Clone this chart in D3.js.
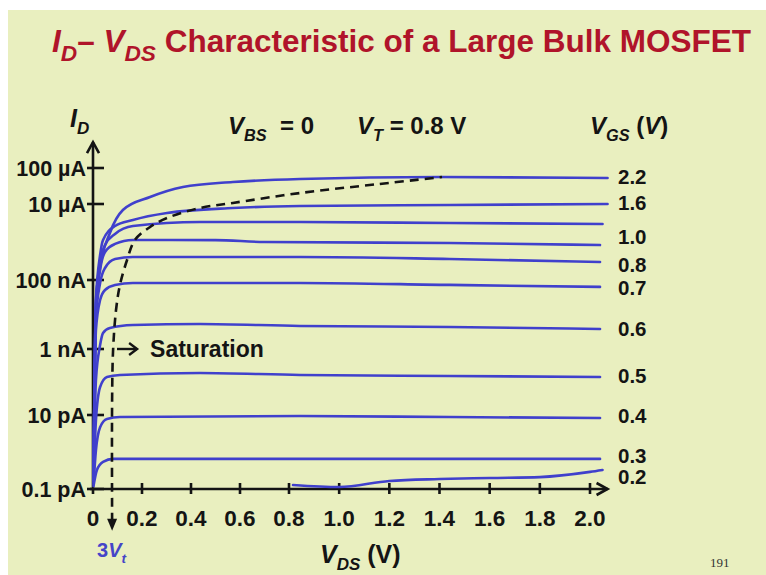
<!DOCTYPE html>
<html><head><meta charset="utf-8">
<script src="https://cdn.jsdelivr.net/npm/d3@7"></script>
<style>body{margin:0;background:#fff}svg{display:block}</style>
</head><body>
<svg id="c" width="766" height="575"></svg>
<script>
// ---------- data ----------
const xTicks = [0,0.2,0.4,0.6,0.8,1.0,1.2,1.4,1.6,1.8,2.0];
const xTickLabels = ["0","0.2","0.4","0.6","0.8","1.0","1.2","1.4","1.6","1.8","2.0"];
const yTicks = [1e-4,1e-5,1e-7,1e-9,1e-11,1e-13];
const yTickLabels = ["100 \u00B5A","10 \u00B5A","100 nA","1 nA","10 pA","0.1 pA"];

// [V_DS (V), I_D (A)]
const c22 = [[0.002,1.75e-13],[0.012,2.6e-8],[0.029,2.2e-7],[0.069,1.73e-6],[0.122,6.95e-6],[0.233,1.56e-5],[0.367,2.96e-5],[0.571,4.08e-5],[0.844,4.95e-5],[1.4,5.6e-5],[2.07,5.3e-5]];
const c16 = [[0.002,1.75e-13],[0.012,2.63e-8],[0.029,4.55e-7],[0.041,1.13e-6],[0.09,2.64e-6],[0.163,3.8e-6],[0.302,5.8e-6],[0.571,7.85e-6],[0.844,8.85e-6],[1.44,9.4e-6],[2.07,1.0e-5]];
const c13 = [[0.002,1.75e-13],[0.012,1.88e-8],[0.029,2.98e-7],[0.049,8.3e-7],[0.09,1.63e-6],[0.163,2.64e-6],[0.437,3.36e-6],[0.844,3.36e-6],[1.44,3.16e-6],[2.05,2.98e-6]];
const c10 = [[0.002,1.75e-13],[0.012,1.35e-8],[0.029,1.83e-7],[0.049,5.46e-7],[0.09,8.9e-7],[0.163,1.13e-6],[0.5,1.12e-6],[0.7,1.0e-6],[1.44,9.4e-7],[2.04,8.3e-7]];
const c08 = [[0.002,1.75e-13],[0.012,7.9e-9],[0.029,8.2e-8],[0.049,2.07e-7],[0.09,3.57e-7],[0.163,4.03e-7],[0.844,4.03e-7],[1.44,3.57e-7],[2.04,2.98e-7]];
const c07 = [[0.002,1.75e-13],[0.012,3.56e-9],[0.029,2.63e-8],[0.049,5.13e-8],[0.09,7.2e-8],[0.163,8.2e-8],[0.844,8.2e-8],[1.44,7.2e-8],[2.04,6.3e-8]];
const c06 = [[0.002,1.75e-13],[0.012,1.15e-10],[0.029,1.3e-9],[0.041,2.9e-9],[0.069,4.06e-9],[0.163,4.97e-9],[0.437,5.3e-9],[0.844,4.65e-9],[1.44,4.35e-9],[2.04,3.8e-9]];
const c05 = [[0.002,1.55e-13],[0.012,7.3e-12],[0.029,7.05e-11],[0.057,1.42e-10],[0.11,1.63e-10],[0.437,1.87e-10],[0.844,1.63e-10],[1.44,1.52e-10],[2.04,1.42e-10]];
const c04 = [[0.002,1.36e-13],[0.012,1.13e-12],[0.029,4.7e-12],[0.057,7.8e-12],[0.11,8.8e-12],[0.844,9.4e-12],[1.44,8.8e-12],[2.04,8.3e-12]];
const c03 = [[0.002,1.2e-13],[0.016,3.27e-13],[0.041,5.4e-13],[0.082,6.5e-13],[0.844,6.5e-13],[2.04,6.5e-13]];
const c02 = [[0.816,1.28e-13],[1.0,1.13e-13],[1.2,1.65e-13],[1.4,1.86e-13],[1.6,1.99e-13],[1.8,2.1e-13],[2.0,2.9e-13],[2.05,3.27e-13]];
const curves = [c22,c16,c13,c10,c08,c07,c06,c05,c04,c03,c02];

// V_GS labels: [text, index of curve]
const vgsLabels = [["2.2",0],["1.6",1],["1.0",3],["0.8",4],["0.7",5],["0.6",6],["0.5",7],["0.4",8],["0.3",9],["0.2",10]];

// saturation boundary (dashed)
const satLine = [[0.078,1.3e-14],[0.078,2.85e-11],[0.082,9.3e-10],[0.094,1.35e-8],[0.11,7.2e-8],[0.139,3.36e-7],[0.171,1.13e-6],[0.233,2.48e-6],[0.302,4.28e-6],[0.437,7.85e-6],[0.571,1.07e-5],[0.844,2.02e-5],[1.16,3.6e-5],[1.41,5.6e-5]];
const vt3 = 0.078;            // 3 V_t
const satArrow = [0.098,0.18,1e-9]; // from, to, level
const satText = [0.233,1e-9];
const xAxisEnd = 2.07, yAxisTop = 5.2e-4;

// ---------- styles ----------
const BG = "#e9efbf", BLUE = "#4040cc", RED = "#b0142a", INK = "#141414";
const FONT = "'Liberation Sans', Arial, Helvetica, sans-serif";
const labelNudge = {"2.2":-1,"1.6":-1,"1.0":-8,"0.8":3,"0.7":1,"0.6":0,"0.5":-1,"0.4":-2,"0.3":-3,"0.2":7};

const svg = d3.select("#c");
svg.append("rect").attr("width",766).attr("height",575).attr("fill","#fff");
svg.append("rect").attr("x",8).attr("y",10).attr("width",758).attr("height",565).attr("fill",BG);

const x = d3.scaleLinear().domain([0,0.8,2]).range([93,289,590]);
const y = d3.scaleLog().domain([1e-13,1e-11,1e-9,1e-7,1e-5,1e-4]).range([489,415,349,280,204,168]);

function rich(g, px, py, parts, size, opts={}) {
  const t = g.append("text").attr("x",px).attr("y",py)
    .attr("font-family",FONT).attr("font-size",size).attr("font-weight","bold")
    .attr("fill",opts.fill||INK).attr("text-anchor",opts.anchor||"start");
  const sr = opts.subRatio || 0.68;
  let shifted = false;
  parts.forEach(p => {
    const s = t.append("tspan").text(p.t);
    if (p.i) s.attr("font-style","italic");
    if (p.sub && !shifted) { s.attr("font-size",size*sr).attr("dy",size*0.28); shifted=true; }
    else if (!p.sub && shifted) { s.attr("dy",-size*0.28); shifted=false; }
    else if (p.sub) s.attr("font-size",size*sr);
  });
  return t;
}

// title
rich(svg, 52, 52, [{t:"I",i:1},{t:"D",i:1,sub:1},{t:"\u2013 "},{t:"V",i:1},{t:"DS",i:1,sub:1},{t:" Characteristic of a Large Bulk MOSFET"}], 31.5, {fill:RED, subRatio:0.72});

// header labels
rich(svg, 70, 127, [{t:"I",i:1},{t:"D",i:1,sub:1}], 25);
rich(svg, 228, 134, [{t:"V",i:1},{t:"BS",i:1,sub:1},{t:"\u00A0\u00A0= 0"}], 24);
rich(svg, 357, 134, [{t:"V",i:1},{t:"T",i:1,sub:1},{t:" = 0.8 V"}], 24);
rich(svg, 590, 134, [{t:"V",i:1},{t:"GS",i:1,sub:1},{t:" ("},{t:"V",i:1},{t:")"}], 24);

// axes
const ax = svg.append("g").attr("stroke",INK).attr("stroke-width",2.6).attr("fill","none");
ax.append("line").attr("x1",x(0)).attr("x2",x(0)).attr("y1",y(1e-13)+5).attr("y2",y(yAxisTop));
ax.append("path").attr("d",`M${x(0)-6},${y(yAxisTop)+11}L${x(0)},${y(yAxisTop)}L${x(0)+6},${y(yAxisTop)+11}`);
ax.append("line").attr("x1",x(0)-3).attr("x2",x(xAxisEnd)).attr("y1",y(1e-13)).attr("y2",y(1e-13));
ax.append("path").attr("d",`M${x(xAxisEnd)-11},${y(1e-13)-6}L${x(xAxisEnd)},${y(1e-13)}L${x(xAxisEnd)-11},${y(1e-13)+6}`);
ax.selectAll(".yt").data(yTicks).join("line").attr("x1",x(0)-6).attr("x2",x(0)+11).attr("y1",d=>y(d)).attr("y2",d=>y(d));
ax.selectAll(".xt").data(xTicks.slice(1)).join("line").attr("x1",d=>x(d)).attr("x2",d=>x(d)).attr("y1",y(1e-13)-6).attr("y2",y(1e-13)+5);

svg.append("g").selectAll("text").data(yTicks).join("text")
  .attr("x",x(0)-7).attr("y",d=>y(d)).attr("dy","0.36em").attr("text-anchor","end")
  .attr("font-family",FONT).attr("font-size",21.5).attr("font-weight","bold").attr("fill",INK)
  .text((d,i)=>yTickLabels[i]);
svg.append("g").selectAll("text").data(xTicks).join("text")
  .attr("x",d=>x(d)).attr("y",y(1e-13)+37).attr("text-anchor","middle")
  .attr("font-family",FONT).attr("font-size",22.5).attr("font-weight","bold").attr("fill",INK)
  .text((d,i)=>xTickLabels[i]);

// curves
const line = d3.line().x(d=>x(d[0])).y(d=>y(d[1])).curve(d3.curveMonotoneX);
svg.append("g").selectAll("path").data(curves).join("path")
  .attr("d",line).attr("fill","none").attr("stroke",BLUE).attr("stroke-width",2.6)
  .attr("stroke-linejoin","round").attr("stroke-linecap","round");

// saturation boundary
const sl = d3.line().x(d=>x(d[0])).y(d=>y(d[1])).curve(d3.curveCatmullRom);
svg.append("path").attr("d",sl(satLine)).attr("fill","none").attr("stroke",INK)
  .attr("stroke-width",2.6).attr("stroke-dasharray","9,6");
const ay = y(satLine[0][1]);
svg.append("path").attr("d",`M${x(vt3)-5},${ay-3}L${x(vt3)},${ay+9}L${x(vt3)+5},${ay-3}Z`).attr("fill",INK);

// saturation arrow
const sa = svg.append("g").attr("stroke",INK).attr("stroke-width",2.4).attr("fill","none");
sa.append("line").attr("x1",x(satArrow[0])).attr("x2",x(satArrow[1])).attr("y1",y(satArrow[2])).attr("y2",y(satArrow[2]));
sa.append("path").attr("d",`M${x(satArrow[1])-8},${y(satArrow[2])-6}L${x(satArrow[1])},${y(satArrow[2])}L${x(satArrow[1])-8},${y(satArrow[2])+6}`);
svg.append("text").attr("x",x(satText[0])).attr("y",y(satText[1])).attr("dy","0.36em")
  .attr("font-family",FONT).attr("font-size",23).attr("font-weight","bold").attr("fill",INK).text("Saturation");

// VGS labels
svg.append("g").selectAll("text").data(vgsLabels).join("text")
  .attr("x",618).attr("y",d=>{const c=curves[d[1]];return y(c[c.length-1][1])+labelNudge[d[0]];})
  .attr("dy","0.36em").attr("font-family",FONT).attr("font-size",20.5).attr("font-weight","bold").attr("fill",INK)
  .text(d=>d[0]);

// 3Vt and x title
rich(svg, 97, 557, [{t:"3"},{t:"V",i:1},{t:"t",i:1,sub:1}], 20, {fill:"#4545c8"});
rich(svg, 320, 563, [{t:"V",i:1},{t:"DS",i:1,sub:1},{t:" (V)"}], 25);
svg.append("text").attr("x",710).attr("y",567).attr("font-family","'Liberation Serif', 'Times New Roman', serif")
  .attr("font-size",13).attr("fill","#333").text("191");
</script>
</body></html>
